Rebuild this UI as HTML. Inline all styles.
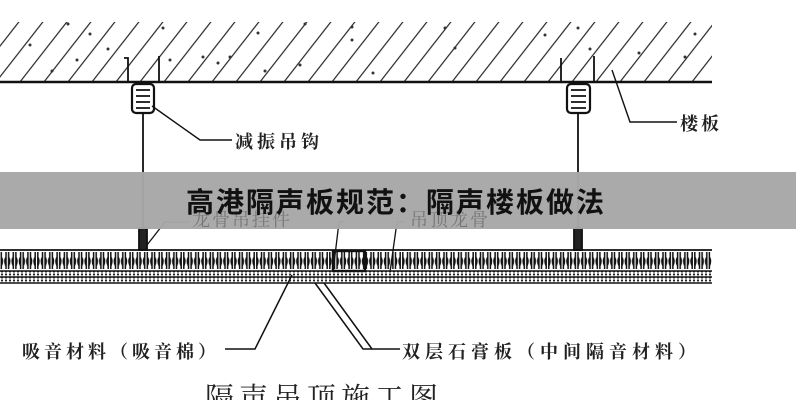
<!DOCTYPE html>
<html><head><meta charset="utf-8"><style>
html,body{margin:0;padding:0;background:#fff;}
svg{display:block}
</style></head><body>
<svg width="796" height="400" viewBox="0 0 796 400" xmlns="http://www.w3.org/2000/svg">
<defs>
<pattern id="hatch" patternUnits="userSpaceOnUse" width="24" height="60" patternTransform="skewX(-38)">
<line x1="12" y1="0" x2="12" y2="60" stroke="#222" stroke-width="1.5"/>
</pattern>
<pattern id="ribs" patternUnits="userSpaceOnUse" x="0" y="250" width="7.3" height="22">
<path d="M1.3 2 V19 M6 2 V19 M1.3 7 Q3.6 11 1.3 16 M6 7 Q3.6 11 6 16" stroke="#111" stroke-width="1.5" fill="none"/>
</pattern>
<pattern id="dots" patternUnits="userSpaceOnUse" width="4" height="3">
<circle cx="2" cy="1.5" r="1.1" fill="#222"/>
</pattern>
</defs>
<rect width="796" height="400" fill="#fff"/>
<!-- slab -->
<rect x="0" y="22" width="712" height="60" fill="url(#hatch)"/>
<g fill="#333">
<circle cx="30" cy="45" r="1.5"/><circle cx="68" cy="24" r="1.5"/><circle cx="90" cy="34" r="1.5"/><circle cx="77" cy="60" r="1.5"/><circle cx="52" cy="71" r="1.5"/><circle cx="108" cy="49" r="1.5"/><circle cx="163" cy="28" r="1.5"/><circle cx="170" cy="60" r="1.5"/><circle cx="203" cy="57" r="1.5"/><circle cx="218" cy="63" r="1.5"/><circle cx="230" cy="57" r="1.5"/><circle cx="258" cy="33" r="1.5"/><circle cx="265" cy="71" r="1.5"/><circle cx="305" cy="24" r="1.5"/><circle cx="300" cy="65" r="1.5"/><circle cx="352" cy="27" r="1.5"/><circle cx="352" cy="40" r="1.5"/><circle cx="373" cy="73" r="1.5"/><circle cx="445" cy="28" r="1.5"/><circle cx="455" cy="48" r="1.5"/><circle cx="545" cy="35" r="1.5"/><circle cx="590" cy="49" r="1.5"/><circle cx="639" cy="53" r="1.5"/><circle cx="695" cy="34" r="1.5"/><circle cx="685" cy="57" r="1.5"/><circle cx="578" cy="28" r="1.5"/>
</g>
<line x1="0" y1="82" x2="712" y2="82" stroke="#111" stroke-width="2.4"/>
<!-- hangers -->
<g stroke="#111" fill="none" stroke-width="1.8">
<path d="M124 58 h4 v24 M159 56 v26"/>
<rect x="132" y="84" width="22" height="29" rx="4" stroke-width="2.2"/>
<path d="M136 90 h14 M136 96 h14 M136 102 h14 M136 108 h14"/>
<line x1="143" y1="113" x2="143" y2="250" stroke-width="1.8"/>
<path d="M561 58 v24 M594 56 v26"/>
<rect x="567" y="84" width="23" height="29" rx="4" stroke-width="2.2"/>
<path d="M571 90 h15 M571 96 h15 M571 102 h15 M571 108 h15"/>
<line x1="578" y1="113" x2="578" y2="250" stroke-width="1.8"/>
<path d="M152 106 L200 140 H232" stroke-width="1.4"/>
<path d="M612 70 L630 122 H677" stroke-width="1.4"/>
<rect x="139" y="228" width="8" height="22" fill="#222"/>
<rect x="574" y="228" width="8" height="22" fill="#222"/>
<path d="M147 245 L165 222 H190" stroke-width="1.3"/>
<path d="M333 272 L339 222 H345 M390 272 L397 222 H405" stroke-width="1.3"/>
</g>
<text x="235" y="148" font-family="'Liberation Serif','Noto Serif CJK SC',serif" font-size="18" font-weight="bold" fill="#222" letter-spacing="4">减振吊钩</text>
<text x="680" y="130" font-family="'Liberation Serif','Noto Serif CJK SC',serif" font-size="18" font-weight="bold" fill="#222" letter-spacing="3">楼板</text>
<!-- panel -->
<line x1="0" y1="250" x2="712" y2="250" stroke="#111" stroke-width="1.8"/>
<rect x="0" y="250" width="712" height="21" fill="url(#ribs)"/>
<rect x="0" y="271" width="712" height="12" fill="url(#dots)"/>
<g stroke="#111" stroke-width="1.6">
<line x1="0" y1="271" x2="712" y2="271"/>
<line x1="0" y1="277" x2="712" y2="277"/>
<line x1="0" y1="283" x2="712" y2="283"/>
</g>
<rect x="333" y="251" width="32" height="20" fill="none" stroke="#111" stroke-width="2.4"/>
<!-- leaders bottom -->
<g stroke="#111" fill="none" stroke-width="1.5">
<path d="M225 349 H255 L292 275"/>
<path d="M315 283 L363 349 H400 M324 283 L372 349"/>
</g>
<text x="22" y="358" font-family="'Liberation Serif','Noto Serif CJK SC',serif" font-size="18" font-weight="bold" fill="#222" letter-spacing="4">吸音材料（吸音棉）</text>
<text x="402" y="358" font-family="'Liberation Serif','Noto Serif CJK SC',serif" font-size="18" font-weight="bold" fill="#222" letter-spacing="5">双层石膏板（中间隔音材料）</text>
<text x="205" y="408" font-family="'Liberation Serif','Noto Serif CJK SC',serif" font-size="29" fill="#222" letter-spacing="5">隔声吊顶施工图</text>
<!-- banner -->
<rect x="0" y="172" width="796" height="57" fill="#a7a7a7" fill-opacity="0.97"/>
<text x="192" y="226" font-family="'Liberation Serif','Noto Serif CJK SC',serif" font-size="18" fill="#777" letter-spacing="2">龙骨吊挂件</text>
<text x="410" y="226" font-family="'Liberation Serif','Noto Serif CJK SC',serif" font-size="18" fill="#777" letter-spacing="2">吊顶龙骨</text>
<text x="396" y="212" text-anchor="middle" font-family="'Liberation Sans','Noto Sans CJK SC',sans-serif" font-weight="bold" font-size="28" fill="#111" letter-spacing="2">高港隔声板规范：隔声楼板做法</text>
</svg>
</body></html>
